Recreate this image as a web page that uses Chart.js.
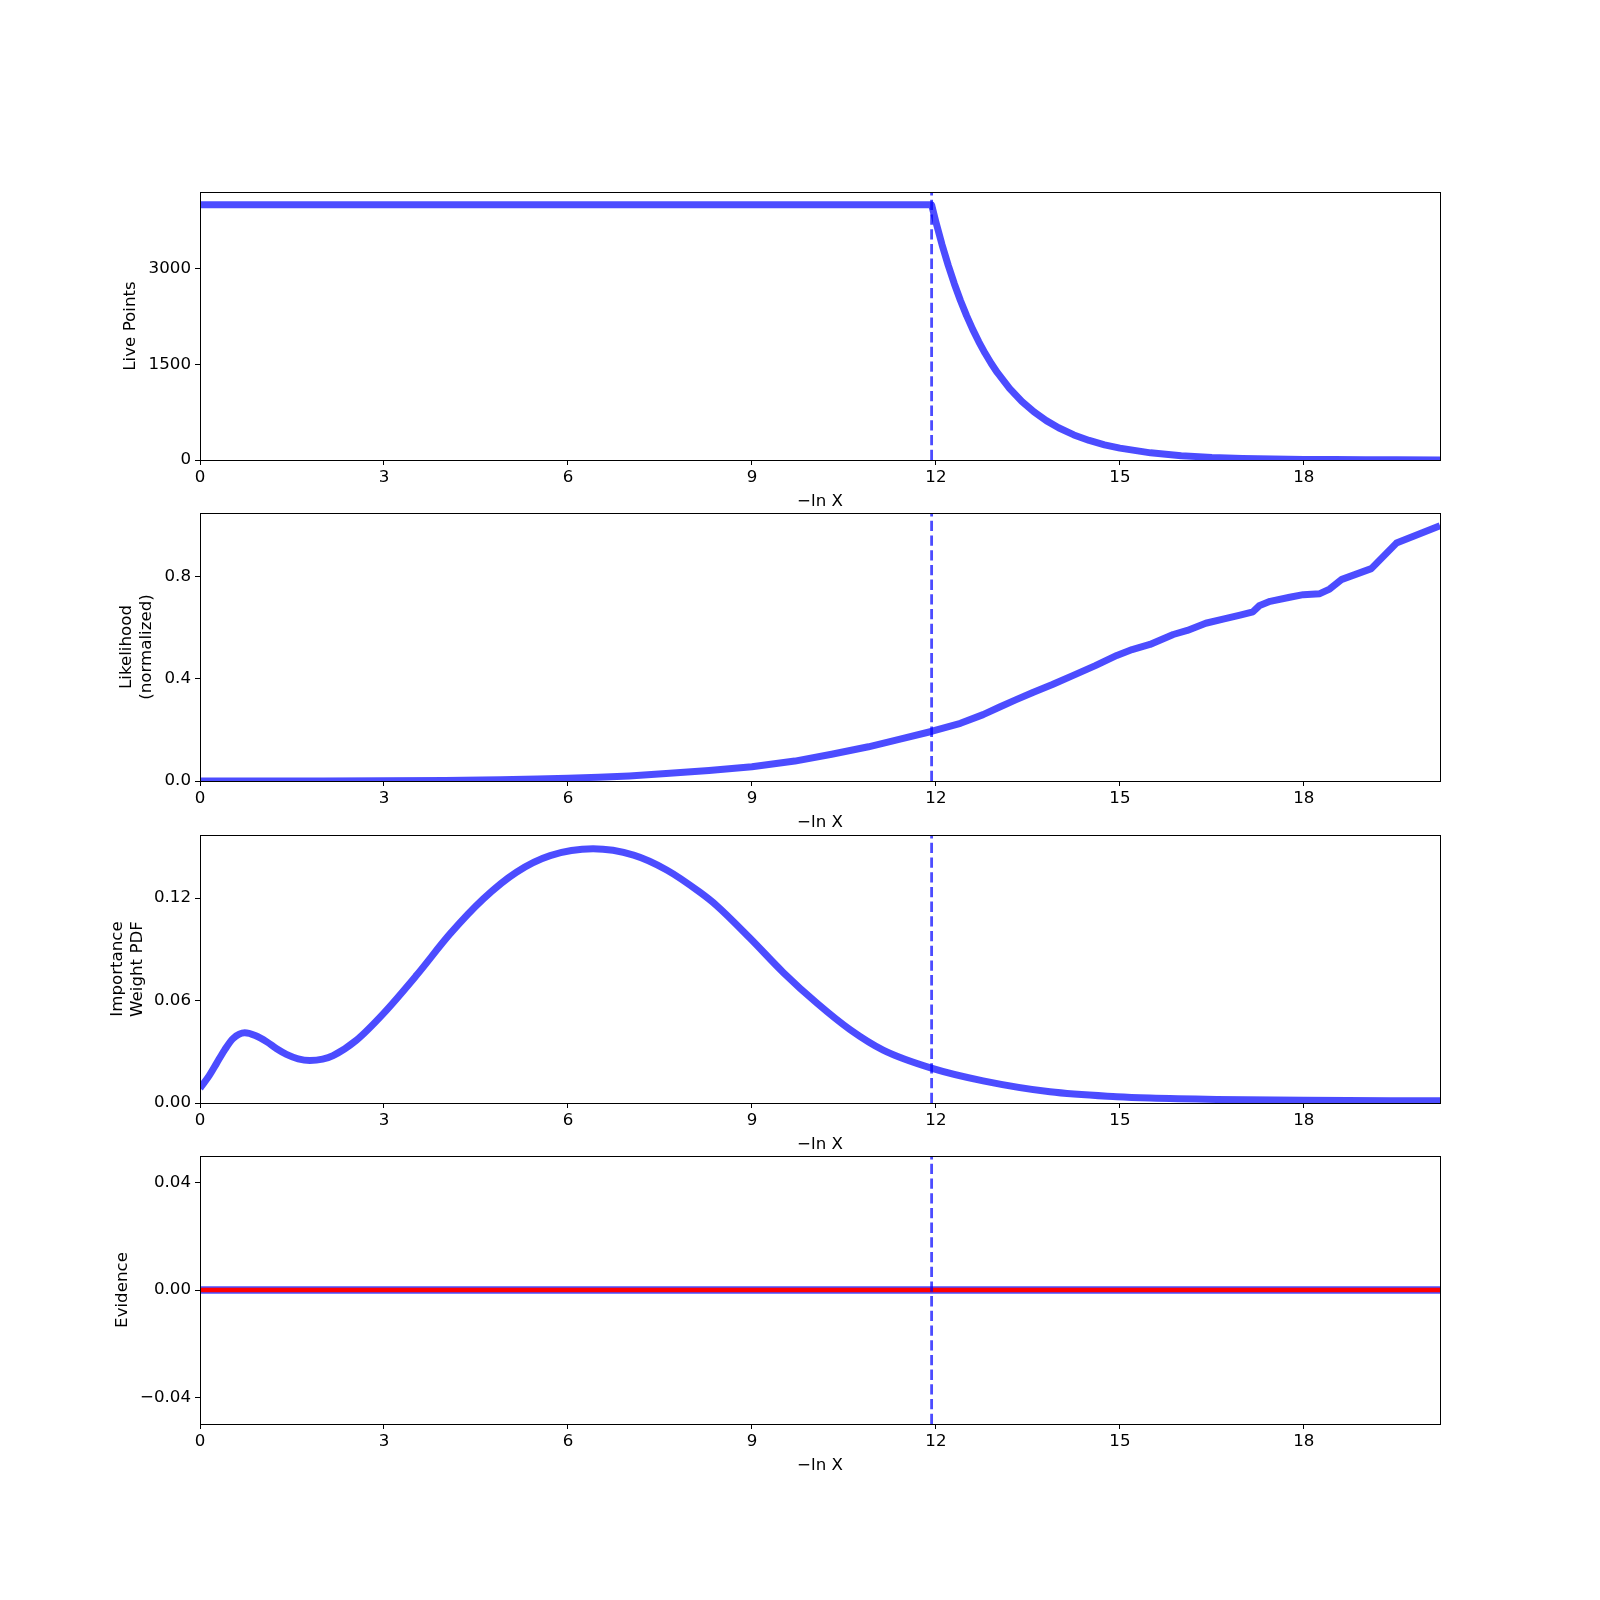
<!DOCTYPE html>
<html>
<head>
<meta charset="utf-8">
<script src="https://cdn.jsdelivr.net/npm/chart.js@4.4.1/dist/chart.umd.min.js"></script>
<style>
  body { margin: 0; background: white; }
  #fig { position: relative; width: 1600px; height: 1600px; background: white; }
  canvas { position: absolute; left: 0; }
</style>
</head>
<body>
<div id="fig">
  <canvas id="live" width="1600" height="348" style="top:172px"></canvas>
  <canvas id="like" width="1600" height="348" style="top:493px"></canvas>
  <canvas id="weight" width="1600" height="348" style="top:815px"></canvas>
  <canvas id="evid" width="1600" height="348" style="top:1136px"></canvas>
</div>
<script>
// shared x axis (-ln X)
const xTicks = [0, 3, 6, 9, 12, 15, 18];
const xMax = 20.22;
const stopX = 11.93;

// live points
const liveX = [0, 11.93, 12.0, 12.1, 12.2, 12.3, 12.4, 12.5, 12.6, 12.7, 12.8, 12.9, 13.0, 13.2, 13.4, 13.6, 13.8, 14.0, 14.25, 14.5, 14.75, 15.0, 15.5, 16.0, 16.5, 17.0, 17.5, 18.0, 18.5, 19.0, 19.5, 20.22];
const liveY = [4000, 4000, 3730, 3375, 3054, 2763, 2500, 2262, 2047, 1852, 1676, 1516, 1372, 1124, 920, 753, 617, 505, 393, 306, 238, 186, 112, 68, 41, 25, 15, 9, 6, 3, 2, 1];
const liveTicks = [0, 1500, 3000];
const liveLabels = ["0", "1500", "3000"];

// likelihood (normalized)
const likeX = [0, 2, 3, 4, 4.9, 5.5, 6.0, 6.5, 7.0, 7.6, 8.3, 9.0, 9.7, 10.3, 10.9, 11.4, 11.94, 12.4, 12.77, 13.04, 13.3, 13.59, 13.9, 14.24, 14.6, 14.95, 15.2, 15.49, 15.87, 16.1, 16.4, 16.7, 16.96, 17.17, 17.28, 17.45, 17.77, 17.99, 18.26, 18.42, 18.62, 19.10, 19.51, 20.22];
const likeY = [0, 0.0002, 0.0006, 0.0018, 0.005, 0.008, 0.011, 0.015, 0.020, 0.029, 0.041, 0.056, 0.078, 0.105, 0.134, 0.163, 0.195, 0.226, 0.260, 0.290, 0.318, 0.348, 0.378, 0.414, 0.452, 0.492, 0.515, 0.535, 0.574, 0.590, 0.618, 0.635, 0.650, 0.663, 0.688, 0.704, 0.720, 0.730, 0.734, 0.752, 0.790, 0.832, 0.932, 1.0];
const likeTicks = [0, 0.4, 0.8];
const likeLabels = ["0.0", "0.4", "0.8"];

// importance weight pdf
const wtX = [0, 0.15, 0.27, 0.40, 0.54, 0.73, 0.90, 1.09, 1.25, 1.41, 1.60, 1.79, 2.00, 2.17, 2.55, 2.99, 3.53, 4.08, 4.62, 5.16, 5.71, 6.41, 7.07, 7.61, 8.15, 8.42, 8.97, 9.51, 10.06, 10.60, 11.14, 11.94, 12.77, 13.86, 14.95, 15.49, 16.58, 18.0, 20.22];
const wtY = [0.0086, 0.0160, 0.0232, 0.0310, 0.0378, 0.0411, 0.0395, 0.0358, 0.0318, 0.0285, 0.0259, 0.0249, 0.0257, 0.0278, 0.0368, 0.0524, 0.0748, 0.0992, 0.1196, 0.1352, 0.1449, 0.1489, 0.1452, 0.1365, 0.1235, 0.1158, 0.0965, 0.0765, 0.0585, 0.0430, 0.0310, 0.0203, 0.0130, 0.0066, 0.0037, 0.0029, 0.0021, 0.0016, 0.0013];
const wtTicks = [0, 0.06, 0.12];
const wtLabels = ["0.00", "0.06", "0.12"];

// evidence
const evX = [0, 20.22];
const evY = [0, 0];
const evTruth = [0, 0];
const evTicks = [-0.04, 0, 0.04];
const evLabels = ["\u22120.04", "0.00", "0.04"];

const blue = "rgba(0, 0, 255, 0.7)";
const font = { family: "DejaVu Sans", size: 16.67 };

const frame = {
  id: "frame",
  afterDatasetsDraw(chart) {
    const a = chart.chartArea;
    const ctx = chart.ctx;
    ctx.save();
    ctx.strokeStyle = "black";
    ctx.lineWidth = 1;
    ctx.strokeRect(Math.round(a.left) + 0.5, Math.round(a.top) + 0.5,
      Math.round(a.right - a.left), Math.round(a.bottom - a.top));
    ctx.restore();
  },
};

function toPoints(xs, ys) {
  return xs.map((x, i) => ({ x: x, y: ys[i] }));
}

function lineSet(xs, ys, extra) {
  return Object.assign({
    data: toPoints(xs, ys),
    borderColor: blue,
    borderWidth: 7,
    borderJoinStyle: "round",
    pointRadius: 0,
    tension: 0,
    clip: 0,
    order: 2,
  }, extra || {});
}

function addPanel(id, cfg) {
  const datasets = cfg.series.slice();
  datasets.push({
    data: [{ x: stopX, y: cfg.yMin }, { x: stopX, y: cfg.yMax }],
    borderColor: blue,
    borderWidth: 2.8,
    borderDash: [10.3, 4.4],
    pointRadius: 0,
    clip: 0,
    order: 1,
  });

  return new Chart(document.getElementById(id), {
    type: "line",
    data: { datasets: datasets },
    options: {
      responsive: false,
      animation: false,
      layout: { padding: { left: cfg.padLeft, top: 20, right: 160, bottom: 8 } },
      plugins: { legend: { display: false }, tooltip: { enabled: false } },
      scales: {
        x: {
          type: "linear",
          min: 0,
          max: xMax,
          afterBuildTicks: (s) => { s.ticks = xTicks.map((v) => ({ value: v })); },
          afterFit: (s) => { s.height = 52; },
          grid: { drawOnChartArea: false, drawTicks: true, tickLength: 5, color: "black", lineWidth: 1 },
          border: { display: false },
          ticks: { color: "black", font: font, padding: 3, maxRotation: 0, autoSkip: false, callback: (v) => String(v) },
          title: { display: true, text: "\u2212ln X", color: "black", font: font, padding: 0 },
        },
        y: {
          type: "linear",
          min: cfg.yMin,
          max: cfg.yMax,
          afterBuildTicks: (s) => { s.ticks = cfg.yTicks.map((v) => ({ value: v })); },
          afterFit: (s) => { s.width = 200 - cfg.padLeft; },
          grid: { drawOnChartArea: false, drawTicks: true, tickLength: 5, color: "black", lineWidth: 1 },
          border: { display: false },
          ticks: { color: "black", font: font, padding: 4, autoSkip: false, callback: (v, i) => cfg.yLabels[i] },
          title: { display: true, text: cfg.title, color: "black", font: font, padding: 0 },
        },
      },
    },
    plugins: [frame],
  });
}

addPanel("live", {
  series: [lineSet(liveX, liveY)],
  yMin: 0, yMax: 4200, yTicks: liveTicks, yLabels: liveLabels,
  title: "Live Points", padLeft: 121,
});

addPanel("like", {
  series: [lineSet(likeX, likeY)],
  yMin: 0, yMax: 1.05, yTicks: likeTicks, yLabels: likeLabels,
  title: ["Likelihood", "(normalized)"], padLeft: 117,
});

addPanel("weight", {
  series: [lineSet(wtX, wtY, { cubicInterpolationMode: "monotone" })],
  yMin: 0, yMax: 0.157, yTicks: wtTicks, yLabels: wtLabels,
  title: ["Importance", "Weight PDF"], padLeft: 108,
});

addPanel("evid", {
  series: [
    lineSet(evX, evY, { borderWidth: 7.5, order: 3 }),
    lineSet(evX, evTruth, { borderColor: "red", borderWidth: 4.7, order: 2 }),
  ],
  yMin: -0.05, yMax: 0.05, yTicks: evTicks, yLabels: evLabels,
  title: "Evidence", padLeft: 113,
});
</script>
</body>
</html>
